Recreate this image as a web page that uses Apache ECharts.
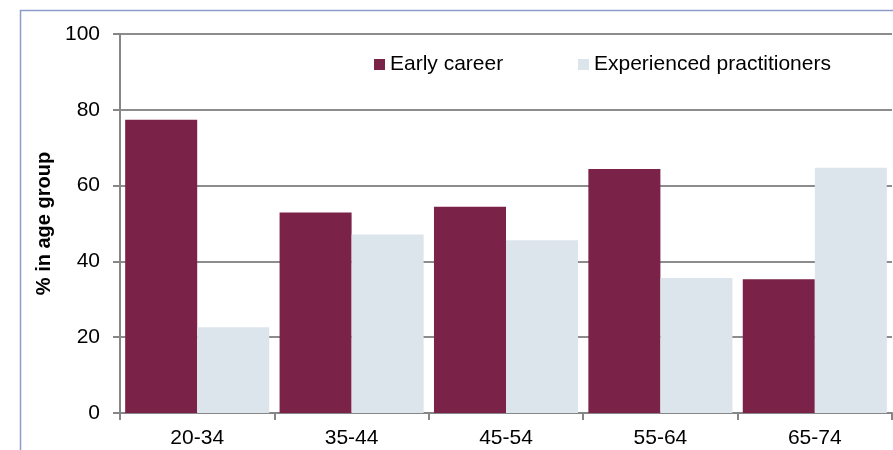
<!DOCTYPE html>
<html>
<head>
<meta charset="utf-8">
<script src="https://cdn.jsdelivr.net/npm/echarts@6/dist/echarts.min.js"></script>
<style>html,body{margin:0;padding:0;background:#fff}#c{width:893px;height:450px}</style>
</head>
<body>
<div id="c"></div>
<script>
var categories = ['20-34', '35-44', '45-54', '55-64', '65-74'];
var earlyCareer = [77.4, 52.9, 54.4, 64.4, 35.3];
var experienced = [22.6, 47.1, 45.6, 35.6, 64.7];
var yTicks = [0, 20, 40, 60, 80, 100];

var chart = echarts.init(document.getElementById('c'), null, {renderer: 'canvas'});
var font = 'Liberation Sans, Arial, sans-serif';
chart.setOption({
  animation: false,
  textStyle: {fontFamily: font},
  graphic: [{
    type: 'rect', silent: true, z: -1,
    shape: {x: 20.5, y: 10.5, width: 900, height: 460},
    style: {fill: 'none', stroke: '#8E9CC9', lineWidth: 1.5}
  }],
  legend: [{
    data: ['Early career'], left: 369, top: 49, icon: 'rect',
    itemWidth: 11, itemHeight: 11, itemGap: 0,
    textStyle: {fontSize: 21, color: '#000', fontFamily: font}
  }, {
    data: ['Experienced practitioners'], left: 573, top: 49, icon: 'rect',
    itemWidth: 11, itemHeight: 11,
    textStyle: {fontSize: 21, color: '#000', fontFamily: font}
  }],
  grid: {left: 120, right: 1, top: 34, bottom: 37, containLabel: false},
  xAxis: {
    type: 'category', data: categories,
    axisLine: {lineStyle: {color: '#868686', width: 2}},
    axisTick: {show: true, length: 7, lineStyle: {color: '#868686', width: 2}},
    axisLabel: {fontSize: 21, color: '#000', margin: 15, fontFamily: font}
  },
  yAxis: {
    type: 'value', min: yTicks[0], max: yTicks[yTicks.length - 1], interval: 20,
    name: '% in age group', nameLocation: 'middle', nameGap: 64, nameRotate: 90,
    nameTextStyle: {fontSize: 20, fontWeight: 'bold', color: '#000', fontFamily: font},
    axisLine: {show: true, lineStyle: {color: '#868686', width: 2}},
    axisTick: {show: true, length: 7, lineStyle: {color: '#868686', width: 2}},
    axisLabel: {fontSize: 21, color: '#000', margin: 20, fontFamily: font},
    splitLine: {lineStyle: {color: '#8C8C8C', width: 2}}
  },
  series: [{
    name: 'Early career', type: 'bar', data: earlyCareer,
    barGap: '0%', barCategoryGap: '6.7%',
    itemStyle: {color: '#7B2249'}
  }, {
    name: 'Experienced practitioners', type: 'bar', data: experienced,
    barGap: '0%', barCategoryGap: '6.7%',
    itemStyle: {color: '#DCE4EC'}
  }]
});
</script>
</body>
</html>
